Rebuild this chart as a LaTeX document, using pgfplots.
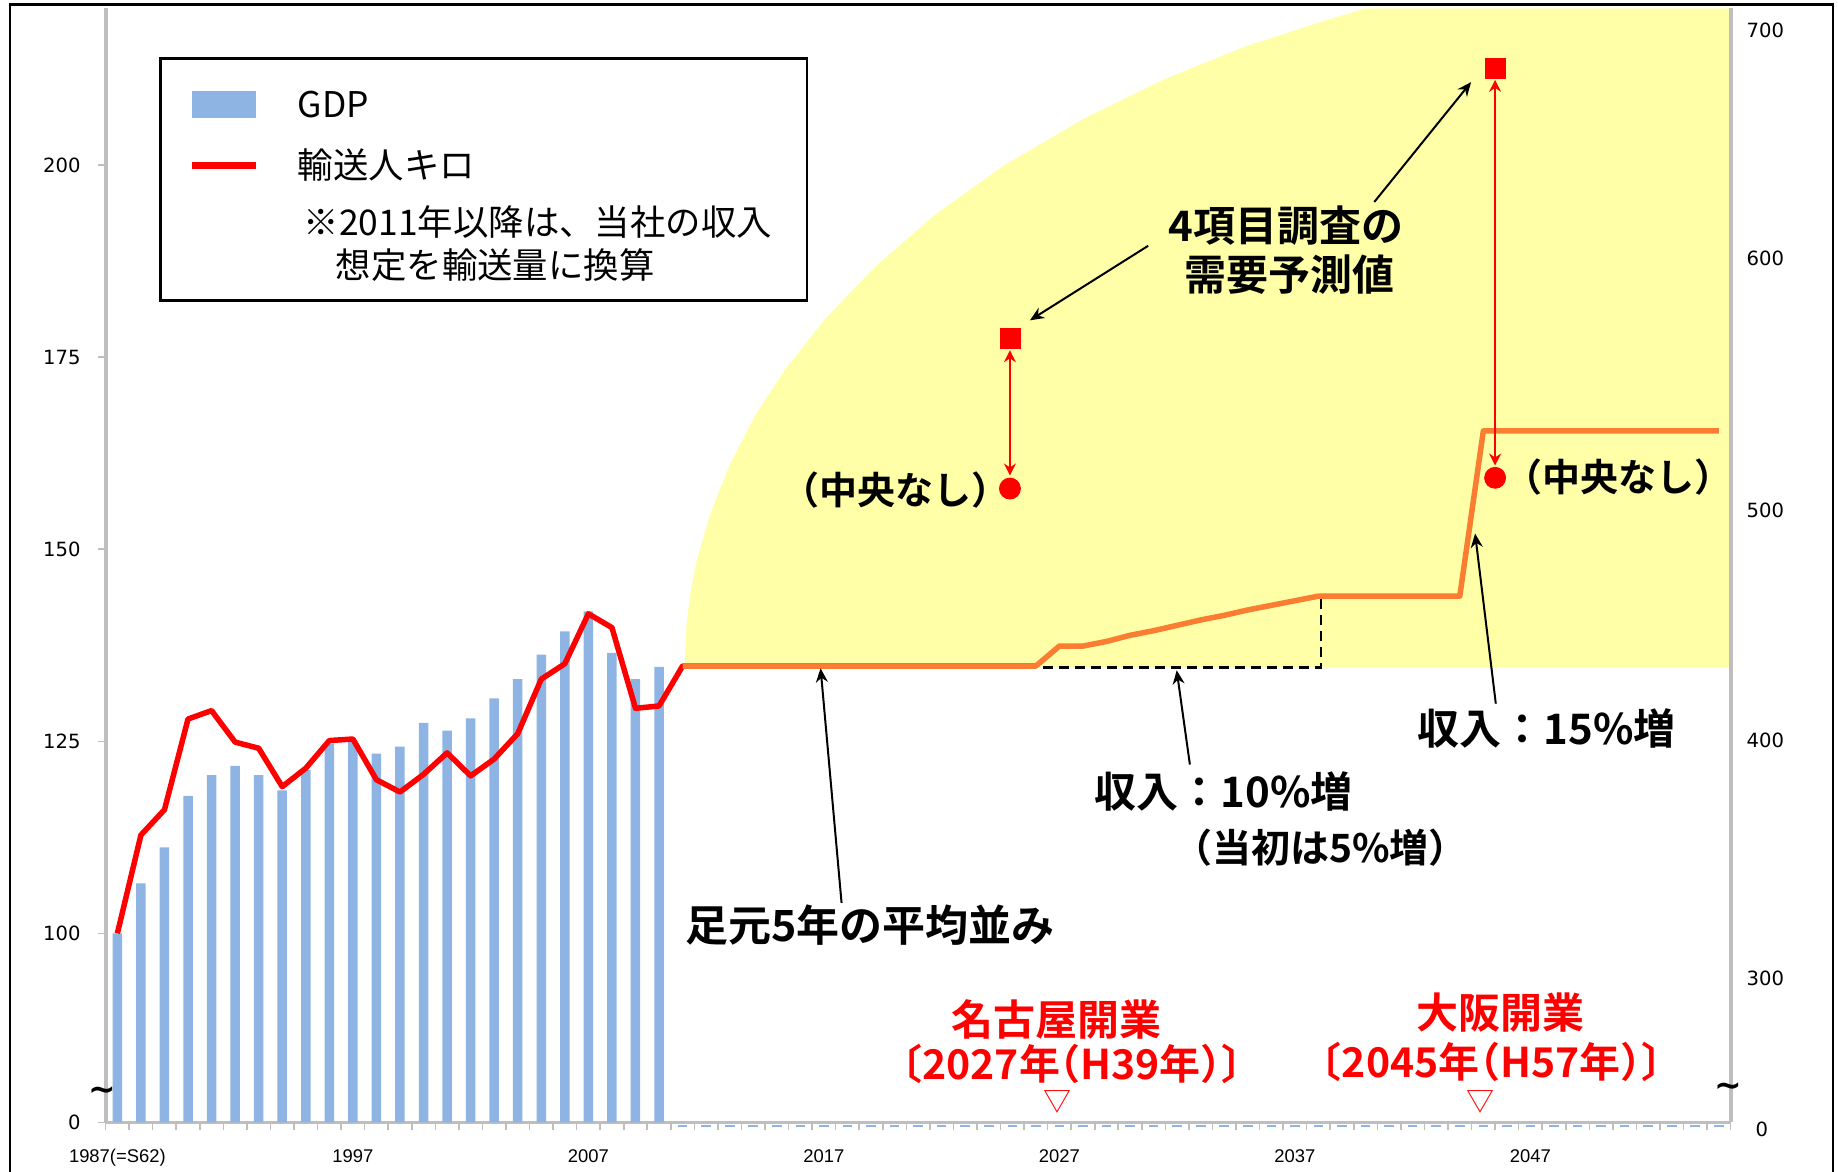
\documentclass[border=0pt]{standalone}
\usepackage{fontspec}
\usepackage{pgfplots}
\pgfplotsset{compat=1.18}
\usetikzlibrary{arrows.meta}
\setmainfont{Liberation Sans}
\newfontfamily\jp{Noto Sans CJK JP}[BoldFont={Noto Sans CJK JP Bold}]
\newfontfamily\jph{Noto Sans CJK JP}[RawFeature=+halt,BoldFont={Noto Sans CJK JP Bold}]
\newfontfamily\dejavu{DejaVu Sans}
\newfontfamily\libsans{Liberation Sans}
\definecolor{barblue}{RGB}{142,180,227}
\definecolor{axisgray}{RGB}{190,190,190}
\definecolor{lyellow}{RGB}{255,255,168}
\definecolor{orng}{RGB}{250,125,50}
\newcommand\annot{\jp\bfseries\fontsize{21}{24}\selectfont}
\newcommand\redf{\jph\bfseries\fontsize{21}{24}\selectfont}
\begin{document}
\begin{tikzpicture}
\begin{axis}[
  scale only axis, width=812.5pt, height=557pt,
  xmin=1986.5, xmax=2055.5, ymin=75.4, ymax=220.4,
  axis x line*=bottom, axis y line*=left,
  x axis line style={-, draw=axisgray, line width=1.2pt},
  y axis line style={-, draw=axisgray, line width=2pt},
  tick align=outside, major tick length=4pt,
  tick style={draw=axisgray, line width=0.8pt},
  xtick={1986.5,1987.5,...,2055.5},
  xticklabels={},
  extra x ticks={1987,1997,2007,2017,2027,2037,2047},
  extra x tick labels={1987(=S62),1997,2007,2017,2027,2037,2047},
  extra x tick style={major tick length=0pt, xticklabel style={font=\libsans\fontsize{9.2}{11}\selectfont, yshift=-10pt}},
  ytick={75.4,100,125,150,175,200},
  yticklabels={0,100,125,150,175,200},
  yticklabel style={font=\dejavu\fontsize{9.8}{11}\selectfont, xshift=-5pt},
  legend style={
    at={(axis description cs:0.0331,0.9561)}, anchor=north west,
    draw=black, line width=1.2pt, fill=white,
    inner xsep=13.7pt, inner ysep=0pt, row sep=0pt, column sep=19pt,
    nodes={inner sep=0pt, text depth=, text height=},
    cells={anchor=base west},
    font=\jp\fontsize{17.7}{20}\selectfont,
  },
]
% yellow forecast area
\addplot[fill=lyellow, draw=none, forget plot] coordinates {
 (2011.08,134.6) (2011.17,140.4) (2011.34,144.4) (2011.59,148.4) (2012.15,154.4)
 (2013.0,161.0) (2014.06,167.3) (2015.33,173.3) (2017.03,179.9) (2019.15,186.7)
 (2021.70,193.5) (2024.67,200.0) (2028.07,206.1) (2031.47,211.2) (2034.86,215.4)
 (2038.26,218.8) (2040.02,220.4) (2055.5,220.4) (2055.5,134.6)};
% GDP bars
\addplot[ybar, bar width=4.75pt, fill=barblue, draw=none,
  legend image code/.code={\fill[barblue] (0pt,0pt) rectangle (32.3pt,13.4pt);}]
 coordinates {
 (1987,100.0) (1988,106.5) (1989,111.2) (1990,117.9) (1991,120.6) (1992,121.8)
 (1993,120.6) (1994,118.6) (1995,121.3) (1996,124.7) (1997,125.0) (1998,123.4)
 (1999,124.3) (2000,127.4) (2001,126.4) (2002,128.0) (2003,130.6) (2004,133.1)
 (2005,136.3) (2006,139.3) (2007,141.9) (2008,136.5) (2009,133.1) (2010,134.7)};
\addlegendentry{\rule[-10pt]{0pt}{39.55pt}GDP}
% red line
\addplot[red, line width=2.75pt, line join=round,
  legend image code/.code={\draw[red, line width=3.65pt] (0pt,6.7pt) -- (32.3pt,6.7pt);}]
 coordinates {
 (1987,100.0) (1988,112.8) (1989,116.1) (1990,127.9) (1991,129.0) (1992,124.9)
 (1993,124.1) (1994,119.1) (1995,121.5) (1996,125.1) (1997,125.3) (1998,120.0)
 (1999,118.4) (2000,120.7) (2001,123.5) (2002,120.5) (2003,122.7) (2004,126.0)
 (2005,133.1) (2006,135.1) (2007,141.6) (2008,139.8) (2009,129.3) (2010,129.6)
 (2011,134.8) (2026,134.8)};
\addlegendentry{\rule[-8pt]{0pt}{28.5pt}輸送人キロ}
\addlegendimage{empty legend}
\addlegendentry{\rule[-3pt]{0pt}{23.5pt}\hspace*{3pt}※2011年以降は、当社の収入\hspace*{4pt}}
\addlegendimage{empty legend}
\addlegendentry{\rule[-10.95pt]{0pt}{29.45pt}\hspace*{19pt}想定を輸送量に換算}
% small blue dashes for zero bars
\addplot[only marks, mark=-, mark size=2.4pt, forget plot,
  mark options={draw=barblue, line width=1pt, yshift=-1.6pt}] coordinates {
 (2011,75.4) (2012,75.4) (2013,75.4) (2014,75.4) (2015,75.4) (2016,75.4) (2017,75.4)
 (2018,75.4) (2019,75.4) (2020,75.4) (2021,75.4) (2022,75.4) (2023,75.4) (2024,75.4)
 (2025,75.4) (2026,75.4) (2027,75.4) (2028,75.4) (2029,75.4) (2030,75.4) (2031,75.4)
 (2032,75.4) (2033,75.4) (2034,75.4) (2035,75.4) (2036,75.4) (2037,75.4) (2038,75.4)
 (2039,75.4) (2040,75.4) (2041,75.4) (2042,75.4) (2043,75.4) (2044,75.4) (2045,75.4)
 (2046,75.4) (2047,75.4) (2048,75.4) (2049,75.4) (2050,75.4) (2051,75.4) (2052,75.4)
 (2053,75.4) (2054,75.4) (2055,75.4)};
% dashed guide
\addplot[black, line width=1.2pt, dash pattern=on 5pt off 3pt, forget plot]
 coordinates {(2026.3,134.6) (2038.1,134.6) (2038.1,143.9)};
% orange projection line
\addplot[orng, line width=2.75pt, line join=round, forget plot] coordinates {
 (2011,134.8) (2026,134.8) (2027,137.4) (2028,137.4) (2029,138.0) (2030,138.8)
 (2031,139.4) (2032,140.1) (2033,140.8) (2034,141.4) (2035,142.1) (2036,142.7)
 (2037,143.3) (2038,143.9) (2044,143.9) (2045,165.4) (2055,165.4)};
% survey markers
\addplot[only marks, mark=square*, mark size=5pt, red, forget plot]
 coordinates {(2024.9,177.4) (2045.5,212.6)};
\addplot[only marks, mark=*, mark size=5.25pt, red, forget plot]
 coordinates {(2024.9,157.9) (2045.5,159.3)};
% red double arrows
\draw[red, line width=0.8pt, {Stealth[length=6pt,width=6pt]}-{Stealth[length=6pt,width=6pt]}]
 (axis cs:2024.9,175.9) -- (axis cs:2024.9,159.6);
\draw[red, line width=0.8pt, {Stealth[length=6pt,width=6pt]}-{Stealth[length=6pt,width=6pt]}]
 (axis cs:2045.5,211.1) -- (axis cs:2045.5,160.9);
% black arrows
\draw[black, line width=1pt, -{Stealth[length=7pt,width=6pt]}] (axis cs:2030.77,189.5) -- (axis cs:2025.75,179.8);
\draw[black, line width=1pt, -{Stealth[length=7pt,width=6pt]}] (axis cs:2040.37,195.2) -- (axis cs:2044.48,210.8);
\draw[black, line width=1pt, -{Stealth[length=7pt,width=6pt]}] (axis cs:2017.75,103.97) -- (axis cs:2016.86,134.5);
\draw[black, line width=1pt, -{Stealth[length=7pt,width=6pt]}] (axis cs:2032.54,121.98) -- (axis cs:2031.98,134.25);
\draw[black, line width=1pt, -{Stealth[length=7pt,width=6pt]}] (axis cs:2045.53,129.9) -- (axis cs:2044.65,152.05);
% annotations
\node[font=\jph\bfseries\fontsize{19}{22}\selectfont] at (axis cs:2020.02,157.7) {（中央なし）};
\node[font=\jph\bfseries\fontsize{19}{22}\selectfont] at (axis cs:2050.76,159.4) {（中央なし）};
\node[font=\annot] at (axis cs:2036.62,192.1) {4項目調査の};
\node[font=\annot] at (axis cs:2036.75,185.8) {需要予測値};
\node[font=\annot] at (axis cs:2047.7,126.7) {収入：15\%増};
\node[font=\annot] at (axis cs:2033.98,118.5) {収入：10\%増};
\node[font=\jp\bfseries\fontsize{19.5}{22}\selectfont] at (axis cs:2038.09,111.2) {（当初は5\%増）};
\node[font=\jp\bfseries\fontsize{21.5}{24}\selectfont] at (axis cs:2018.97,101.1) {足元5年の平均並み};
\node[font=\redf, text=red] at (axis cs:2026.89,88.8) {名古屋開業};
\node[font=\jph\bfseries\fontsize{20.5}{24}\selectfont, text=red] at (axis cs:2027.53,82.95) {〔2027年（H39年）〕};
\node[font=\jp\fontsize{14}{14}\selectfont, text=red] at (axis cs:2026.93,78.0) {▽};
\node[font=\redf, text=red] at (axis cs:2045.75,89.7) {大阪開業};
\node[font=\jph\bfseries\fontsize{20.5}{24}\selectfont, text=red] at (axis cs:2045.35,83.3) {〔2045年（H57年）〕};
\node[font=\jp\fontsize{14}{14}\selectfont, text=red] at (axis cs:2044.86,78.1) {▽};
\coordinate (TL) at (axis cs:1986.38,79.2);
\coordinate (TR) at (axis cs:2055.4,79.6);
\coordinate (SW) at (rel axis cs:0,0);
\coordinate (NE) at (rel axis cs:1,1);
\end{axis}
\begin{axis}[
  scale only axis, width=812.5pt, height=557pt,
  xmin=1986.5, xmax=2055.5, ymin=75.4, ymax=220.4,
  axis x line=none, axis y line*=right,
  y axis line style={-, draw=axisgray, line width=2pt},
  major tick length=0pt,
  ytick={94.2,125.1,155.0,187.9,217.5},
  yticklabels={300,400,500,600,700},
  yticklabel style={font=\dejavu\fontsize{9.8}{11}\selectfont, xshift=4.5pt},
  extra y ticks={75.4}, extra y tick labels={0},
  extra y tick style={yticklabel style={font=\dejavu\fontsize{9.8}{11}\selectfont, xshift=4.5pt, yshift=-3.5pt}},
]
\end{axis}
\node[font=\dejavu\bfseries\fontsize{16.5}{16.5}\selectfont, inner sep=0pt] at (TL) {\textasciitilde};
\node[font=\dejavu\bfseries\fontsize{16.5}{16.5}\selectfont, inner sep=0pt] at (TR) {\textasciitilde};
\draw[black, line width=1.2pt] ([shift={(-47.8pt,-40pt)}]SW) -- ([shift={(-47.8pt,1.95pt)}]SW|-NE) -- ([shift={(51.2pt,1.95pt)}]NE) -- ([shift={(51.2pt,-40pt)}]NE|-SW);
\pgfresetboundingbox
\path[use as bounding box] ([shift={(-52.8pt,-24.5pt)}]SW) rectangle ([shift={(53.7pt,4.2pt)}]NE);
\end{tikzpicture}
\end{document}
